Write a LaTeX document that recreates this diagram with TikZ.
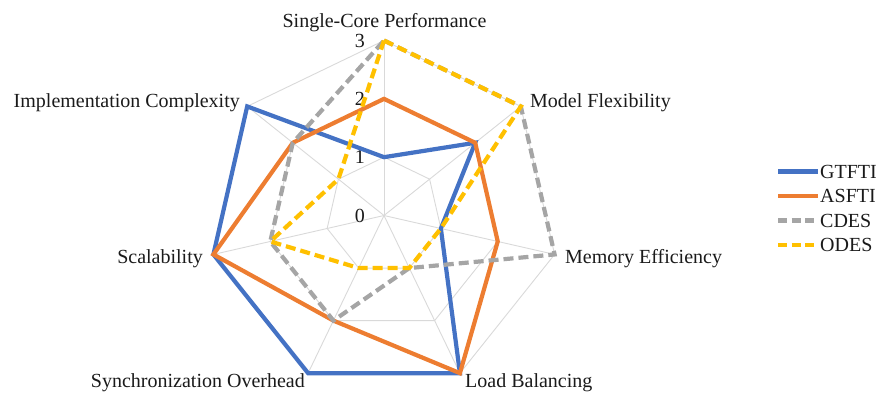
\documentclass[tikz,border=0pt]{standalone}
\usepackage{fontspec}
\setmainfont{Liberation Serif}
\definecolor{cblue}{HTML}{4472C4}
\definecolor{corange}{HTML}{ED7D31}
\definecolor{cgray}{HTML}{A5A5A5}
\definecolor{cgold}{HTML}{FFC000}
\definecolor{cgrid}{HTML}{D9D9D9}
\definecolor{ctext}{HTML}{1A1A1A}
\newcommand{\cx}{384}
\newcommand{\cy}{215.5}
\newcommand{\uu}{58.33}
\newcommand{\radarpts}[2]{%
  \foreach \v [count=\k from 0] in {#2}{%
    \coordinate (#1\k) at ({\cx+\v*\uu*sin(\k*360/7)},{\cy-\v*\uu*cos(\k*360/7)});
  }}
\begin{document}
\begin{tikzpicture}[x=1pt,y=-1pt,
  lbl/.style={font=\fontsize{20}{24}\selectfont, inner sep=0pt, text=ctext},
  gridline/.style={draw=cgrid, line width=0.9pt},
  serie/.style={line width=4.2pt, line join=miter},
  dsh/.style={dash pattern=on 10pt off 5pt},
  lgdsh/.style={dash pattern=on 9pt off 4.5pt}
]
\useasboundingbox (0,0) rectangle (881,392);
\coordinate (c) at (\cx,\cy);
% grid
\radarpts{r1}{1,1,1,1,1,1,1}
\radarpts{r2}{2,2,2,2,2,2,2}
\radarpts{r3}{3,3,3,3,3,3,3}
\foreach \r in {r1,r2,r3}{
  \draw[gridline] (\r0) -- (\r1) -- (\r2) -- (\r3) -- (\r4) -- (\r5) -- (\r6) -- cycle;
}
\foreach \k in {0,...,6}{
  \draw[gridline] (c) -- (r3\k);
}
% axis numbers
\node[lbl, anchor=base east] (n0) at (365,{\cy+6.6}) {0};
\node[lbl, anchor=base east] (n1) at (365,{\cy-1*\uu+6.6}) {1};
\node[lbl, anchor=base east] (n2) at (365,{\cy-2*\uu+6.6}) {2};
\node[lbl, anchor=base east] (n3) at (365,{\cy-3*\uu+6.6}) {3};
% series
\radarpts{g}{1,2,1,3,3,3,3}
\radarpts{a}{2,2,2,3,2,3,2}
\radarpts{d}{3,3,3,1,2,2,2}
\radarpts{o}{3,3,1,1,1,2,1}
\draw[serie, cblue] (g0) -- (g1) -- (g2) -- (g3) -- (g4) -- (g5) -- (g6) -- cycle;
\draw[serie, corange] (a0) -- (a1) -- (a2) -- (a3) -- (a4) -- (a5) -- (a6) -- cycle;
\draw[serie, cgray, dsh] (d0) -- (d1) -- (d2) -- (d3) -- (d4) -- (d5) -- (d6) -- cycle;
\draw[serie, cgold, dsh] (o0) -- (o1) -- (o2) -- (o3) -- (o4) -- (o5) -- (o6) -- cycle;
% category labels
\node[lbl, anchor=base] (lSCP) at (384.5,27) {Single-Core Performance};
\node[lbl, anchor=base west] (lMF) at (530,107) {Model Flexibility};
\node[lbl, anchor=base west] (lME) at (565,263) {Memory Efficiency};
\node[lbl, anchor=base west] (lLB) at (465,387) {Load Balancing};
\node[lbl, anchor=base east] (lSO) at (305,387) {Synchronization Overhead};
\node[lbl, anchor=base east] (lSC) at (203,263) {Scalability};
\node[lbl, anchor=base east] (lIC) at (240,107) {Implementation Complexity};
% legend
\coordinate (k1a) at (778,171.5); \coordinate (k1b) at (818,171.5);
\coordinate (k2a) at (778,196);   \coordinate (k2b) at (818,196);
\coordinate (k3a) at (778,220.5); \coordinate (k3b) at (818,220.5);
\coordinate (k4a) at (778,245);   \coordinate (k4b) at (818,245);
\draw[serie, cblue] (k1a) -- (k1b);
\draw[serie, corange] (k2a) -- (k2b);
\draw[serie, cgray, lgdsh] (k3a) -- (k3b);
\draw[serie, cgold, lgdsh] (k4a) -- (k4b);
\node[lbl, anchor=base west] (t1) at (820,178.1) {GTFTI};
\node[lbl, anchor=base west] (t2) at (820,202.6) {ASFTI};
\node[lbl, anchor=base west] (t3) at (820,227.1) {CDES};
\node[lbl, anchor=base west] (t4) at (820,251.6) {ODES};
\end{tikzpicture}
\end{document}
